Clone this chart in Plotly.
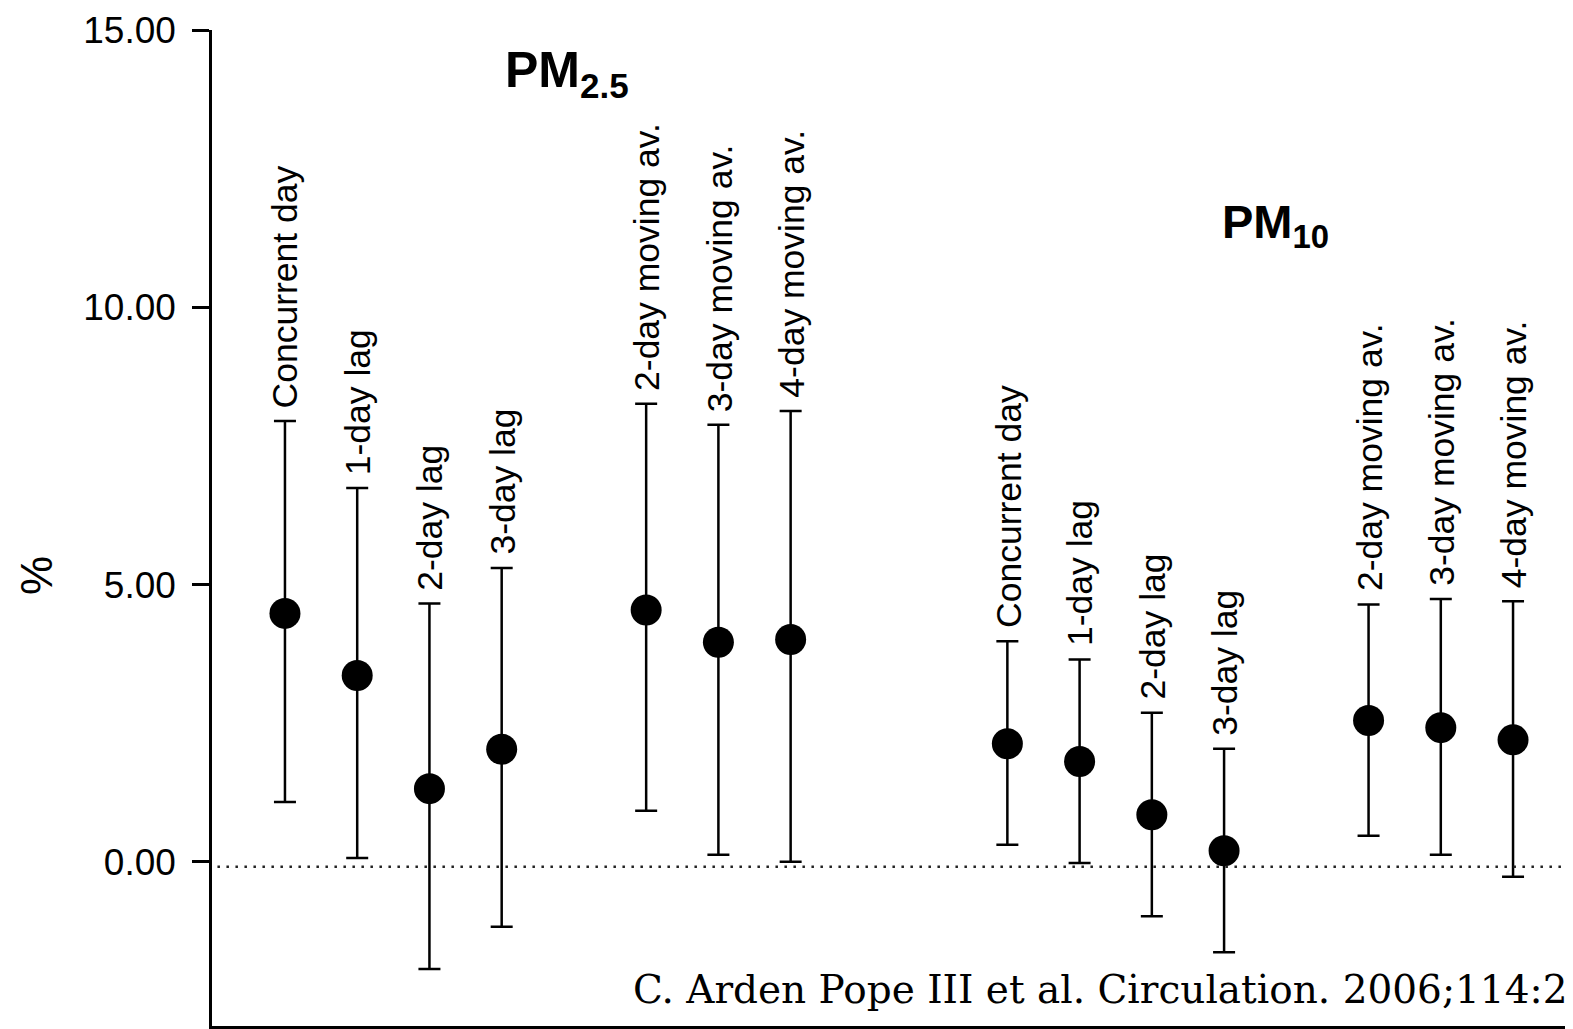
import plotly.graph_objects as go

# ---- data (percent change) ----
metrics = ["Concurrent day", "1-day lag", "2-day lag", "3-day lag",
           "2-day moving av.", "3-day moving av.", "4-day moving av."]

pm25_est = [4.48, 3.36, 1.32, 2.03, 4.54, 3.96, 4.01]
pm25_hi = [7.95, 6.74, 4.66, 5.30, 8.26, 7.88, 8.13]
pm25_lo = [1.08, 0.07, -1.93, -1.17, 0.92, 0.13, 0.00]

pm10_est = [2.13, 1.81, 0.85, 0.20, 2.55, 2.42, 2.20]
pm10_hi = [3.98, 3.65, 2.69, 2.04, 4.64, 4.74, 4.70]
pm10_lo = [0.31, -0.02, -0.98, -1.63, 0.47, 0.13, -0.27]

group_titles = ["PM<sub>2.5</sub>", "PM<sub>10</sub>"]
y_ticks = [0, 5, 10, 15]
y_tick_text = ["0.00", "5.00", "10.00", "15.00"]
citation = "C. Arden Pope III et al. Circulation. 2006;114:2"

# ---- figure geometry (page has an 8px body margin) ----
OFF = 8
W, H = 1573 - OFF, 1029 - OFF
ML, MR, MT, MB = 212 - OFF, 0, 30 - OFF, 3
PW, PH = W - ML - MR, H - MT - MB
SANS = "Liberation Sans, Arial, Helvetica, sans-serif"


def px_x(px):
    return (px - OFF - ML) / PW


def px_y(py):
    return (H - MB - (py - OFF)) / PH


groups = [(pm25_est, pm25_hi, pm25_lo), (pm10_est, pm10_hi, pm10_lo)]

fig = go.Figure()
annotations = []
for g, (est, hi, lo) in enumerate(groups):
    xs = [g * 10 + m + (1 if m >= 4 else 0) for m in range(len(metrics))]
    fig.add_trace(go.Scatter(
        x=xs, y=est, mode="markers",
        marker=dict(size=31, color="black", line=dict(width=0)),
        error_y=dict(type="data", symmetric=False,
                     array=[h - e for h, e in zip(hi, est)],
                     arrayminus=[e - l for e, l in zip(est, lo)],
                     color="black", thickness=2.5, width=11),
        showlegend=False, hoverinfo="skip",
    ))
    for x, h, name in zip(xs, hi, metrics):
        annotations.append(dict(
            x=x, y=h, xref="x", yref="y", text=name, showarrow=False,
            textangle=-90, xanchor="center", yanchor="bottom",
            yshift=11, xshift=1,
            font=dict(family=SANS, size=35.5, color="black"),
        ))

# group titles
annotations.append(dict(
    x=px_x(503), y=px_y(40), xref="paper", yref="paper",
    text="<b>" + group_titles[0] + "</b>", showarrow=False,
    xanchor="left", yanchor="top",
    font=dict(family=SANS, size=50, color="black"),
))
annotations.append(dict(
    x=px_x(1220), y=px_y(193), xref="paper", yref="paper",
    text="<b>" + group_titles[1] + "</b>", showarrow=False,
    xanchor="left", yanchor="top",
    font=dict(family=SANS, size=47, color="black"),
))
# y-axis title
annotations.append(dict(
    x=px_x(37), y=px_y(576), xref="paper", yref="paper",
    text="%", showarrow=False, textangle=-90,
    xanchor="center", yanchor="middle",
    font=dict(family=SANS, size=44, color="black"),
))
# citation
annotations.append(dict(
    x=px_x(631), y=px_y(1014), xref="paper", yref="paper",
    text=citation, showarrow=False,
    xanchor="left", yanchor="bottom",
    font=dict(family="DejaVu Serif, Liberation Serif, serif", size=39, color="black"),
))

fig.update_layout(
    width=W, height=H, autosize=False,
    margin=dict(l=ML, r=MR, t=MT, b=MB, pad=0),
    paper_bgcolor="white", plot_bgcolor="white",
    annotations=annotations,
    shapes=[dict(type="line", xref="paper", yref="y",
                 x0=0.004, x1=1, y0=-0.09, y1=-0.09,
                 line=dict(color="#222222", width=2.5, dash="2.5px,6.5px"))],
    xaxis=dict(range=[-1.01, 17.83], showgrid=False, zeroline=False,
               showticklabels=False, ticks="", showline=True,
               linecolor="black", linewidth=2.5),
    yaxis=dict(range=[-2.96, 15], showgrid=False, zeroline=False,
               tickmode="array", tickvals=y_ticks, ticktext=y_tick_text,
               ticks="outside", ticklen=17, tickwidth=2.5, tickcolor="black",
               showline=True, linecolor="black", linewidth=2.5,
               ticklabelstandoff=9,
               tickfont=dict(family=SANS, size=37, color="black")),
)

fig.write_html("out.html")
